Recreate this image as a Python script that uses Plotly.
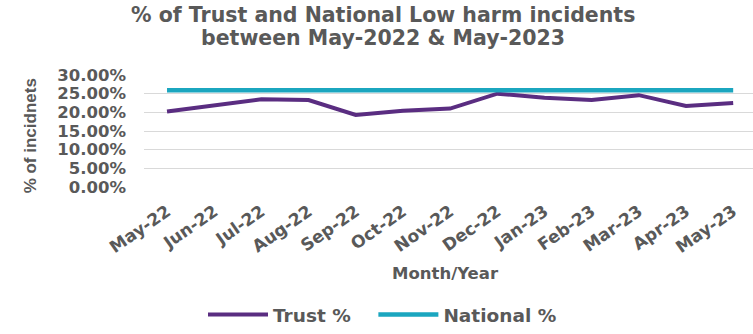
import plotly.graph_objects as go

months = ["May-22", "Jun-22", "Jul-22", "Aug-22", "Sep-22", "Oct-22", "Nov-22",
          "Dec-22", "Jan-23", "Feb-23", "Mar-23", "Apr-23", "May-23"]
trust_pct = [0.202, 0.219, 0.235, 0.233, 0.193, 0.204, 0.210,
             0.250, 0.239, 0.233, 0.246, 0.217, 0.225]
national_pct = [0.259] * 13
y_ticks = [0, 0.05, 0.10, 0.15, 0.20, 0.25, 0.30]
title_lines = ["% of Trust and National Low harm incidents", "between May-2022 & May-2023"]
x_title = "Month/Year"
y_title = "% of incidnets"

WIDE = "DejaVu Sans, Verdana, sans-serif"
ARIAL = "Liberation Sans, Arial, sans-serif"
GREY = "#595959"

L, T, B = 144, 75, 144
H = 334 - T - B
W = 753 - L


def px_x(px):
    return (px - L) / W


def px_y(py):
    return (334 - B - py) / H


fig = go.Figure()
fig.add_trace(go.Scatter(x=list(range(len(months))), y=trust_pct, mode="lines",
                         name="<b>Trust %</b>\u00a0\u00a0\u00a0", line=dict(color="#5a2d81", width=4)))
fig.add_trace(go.Scatter(x=list(range(len(months))), y=national_pct, mode="lines",
                         name="<b>National %</b>", line=dict(color="#1ba6bf", width=4.5)))

annotations = [
    dict(text="<b>%s</b>" % title_lines[0], x=px_x(383), y=px_y(13), xref="paper", yref="paper",
         xanchor="center", yanchor="middle", showarrow=False, font=dict(family=WIDE, size=20.5, color=GREY)),
    dict(text="<b>%s</b>" % title_lines[1], x=px_x(383), y=px_y(36.5), xref="paper", yref="paper",
         xanchor="center", yanchor="middle", showarrow=False, font=dict(family=WIDE, size=20.5, color=GREY)),
    dict(text="<b>%s</b>" % x_title, x=px_x(445), y=px_y(279), xref="paper", yref="paper",
         xanchor="center", yanchor="middle", showarrow=False, font=dict(family=WIDE, size=16.5, color=GREY)),
    dict(text="<b>%s</b>" % y_title, x=px_x(30), y=px_y(138), xref="paper", yref="paper",
         xanchor="center", yanchor="middle", showarrow=False, textangle=-90,
         font=dict(family=ARIAL, size=17, color=GREY)),
]

fig.update_layout(
    width=753, height=334,
    margin=dict(l=L, r=0, t=T, b=B),
    paper_bgcolor="white", plot_bgcolor="white",
    font=dict(family=WIDE, color=GREY),
    showlegend=True,
    legend=dict(orientation="h", x=px_x(203), xanchor="left", y=px_y(322), yanchor="middle",
                font=dict(size=18.5, color=GREY, family=WIDE), itemwidth=60,
                traceorder="normal"),
    annotations=annotations,
    xaxis=dict(
        tickmode="array", tickvals=list(range(len(months))),
        ticktext=["<b>%s</b>" % m for m in months],
        range=[-0.488, 12.42], tickangle=-35, showgrid=False, zeroline=False,
        showline=False, ticks="outside", ticklen=7, tickcolor="rgba(0,0,0,0)",
        tickfont=dict(size=17, color=GREY, family=WIDE),
    ),
    yaxis=dict(
        range=[0, 0.30], tickvals=y_ticks,
        ticktext=["<b>%.2f%%</b>" % (v * 100) for v in y_ticks],
        showgrid=True, gridcolor="#d9d9d9", gridwidth=1, zeroline=False,
        showline=False, ticks="", ticklabelstandoff=17,
        tickfont=dict(size=16.5, color=GREY, family=WIDE),
    ),
)

fig.write_html("out.html")
